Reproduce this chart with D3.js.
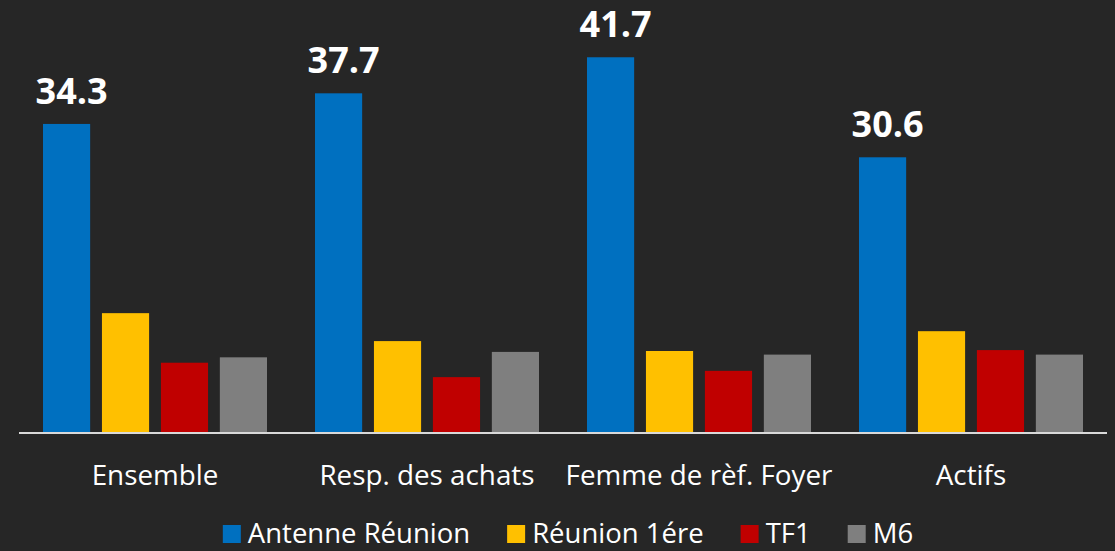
<!DOCTYPE html>
<html>
<head>
<meta charset="utf-8">
<script src="https://cdn.jsdelivr.net/npm/d3@7"></script>
<style>
  html, body { margin: 0; padding: 0; background: #262626; }
  svg { display: block; }
  text { font-family: "Open Sans", sans-serif; fill: #ffffff; }
</style>
</head>
<body>
<div id="chart"></div>
<script>
// categories and series
var categories = ["Ensemble", "Resp. des achats", "Femme de rèf. Foyer", "Actifs"];
var seriesNames = ["Antenne Réunion", "Réunion 1ére", "TF1", "M6"];
var antenne = [34.3, 37.7, 41.7, 30.6];
var reunion1 = [13.3, 10.2, 9.1, 11.3];
var tf1 = [7.8, 6.2, 6.9, 9.2];
var m6 = [8.4, 9.0, 8.7, 8.7];
var colors = ["#0070C0", "#FFC000", "#C00000", "#7F7F7F"];

var seriesValues = [antenne, reunion1, tf1, m6];
var rows = categories.map(function (c, i) {
    return { cat: c, vals: seriesValues.map(function (s, k) { return { k: k, v: s[i] }; }) };
});

var W = 1115, H = 551;
var svg = d3.select("#chart").append("svg")
    .attr("width", W)
    .attr("height", H);

var x0 = d3.scaleBand()
    .domain(categories)
    .range([19, 1107])
    .padding(0);

var x1 = d3.scaleBand()
    .domain(d3.range(seriesNames.length))
    .range([24, 248])
    .paddingInner(0.2)
    .paddingOuter(0);

var y = d3.scaleLinear()
    .domain([0, 48])
    .range([433, 0.5]);

/*** bars ***/
var groups = svg.append("g").selectAll("g")
    .data(rows)
    .enter().append("g")
    .attr("transform", function (d) { return "translate(" + x0(d.cat) + ",0)"; });

groups.selectAll("rect")
    .data(function (d) { return d.vals; })
    .enter().append("rect")
    .attr("x", function (d) { return x1(d.k); })
    .attr("width", x1.bandwidth())
    .attr("y", function (d) { return y(d.v); })
    .attr("height", function (d) { return y(0) - y(d.v); })
    .style("fill", function (d) { return colors[d.k]; });

// value labels only on the first series
groups.append("text")
    .attr("x", function (d) { return x1(0) + x1.bandwidth() / 2 + 5; })
    .attr("y", function (d) { return y(d.vals[0].v) - 20; })
    .attr("text-anchor", "middle")
    .style("font-size", "36px")
    .style("font-weight", "bold")
    .text(function (d) { return d3.format(".1f")(d.vals[0].v); });

/*** baseline + category labels ***/
svg.append("line")
    .attr("x1", x0.range()[0])
    .attr("x2", x0.range()[1])
    .attr("y1", y(0))
    .attr("y2", y(0))
    .style("stroke", "#d9d9d9")
    .style("stroke-width", 2);

svg.append("g").selectAll("text")
    .data(categories)
    .enter().append("text")
    .attr("x", function (d) { return x0(d) + x0.bandwidth() / 2; })
    .attr("y", 485)
    .attr("text-anchor", "middle")
    .style("font-size", "27.8px")
    .text(function (d) { return d; });

/*** legend ***/
var legend = svg.append("g");
var items = legend.selectAll("g")
    .data(seriesNames)
    .enter().append("g");

items.append("rect")
    .attr("x", 0)
    .attr("y", 525)
    .attr("width", 18)
    .attr("height", 18)
    .style("fill", function (d, i) { return colors[i]; });

items.append("text")
    .attr("x", 25)
    .attr("y", 543)
    .style("font-size", "27.5px")
    .text(function (d) { return d; });

var pos = 0;
items.each(function () {
    var g = d3.select(this);
    var w = 25 + g.select("text").node().getComputedTextLength();
    g.attr("transform", "translate(" + pos + ",0)");
    pos += w + 37;
});
var total = pos - 37;
legend.attr("transform", "translate(" + (568 - total / 2) + ",0)");
</script>
</body>
</html>
